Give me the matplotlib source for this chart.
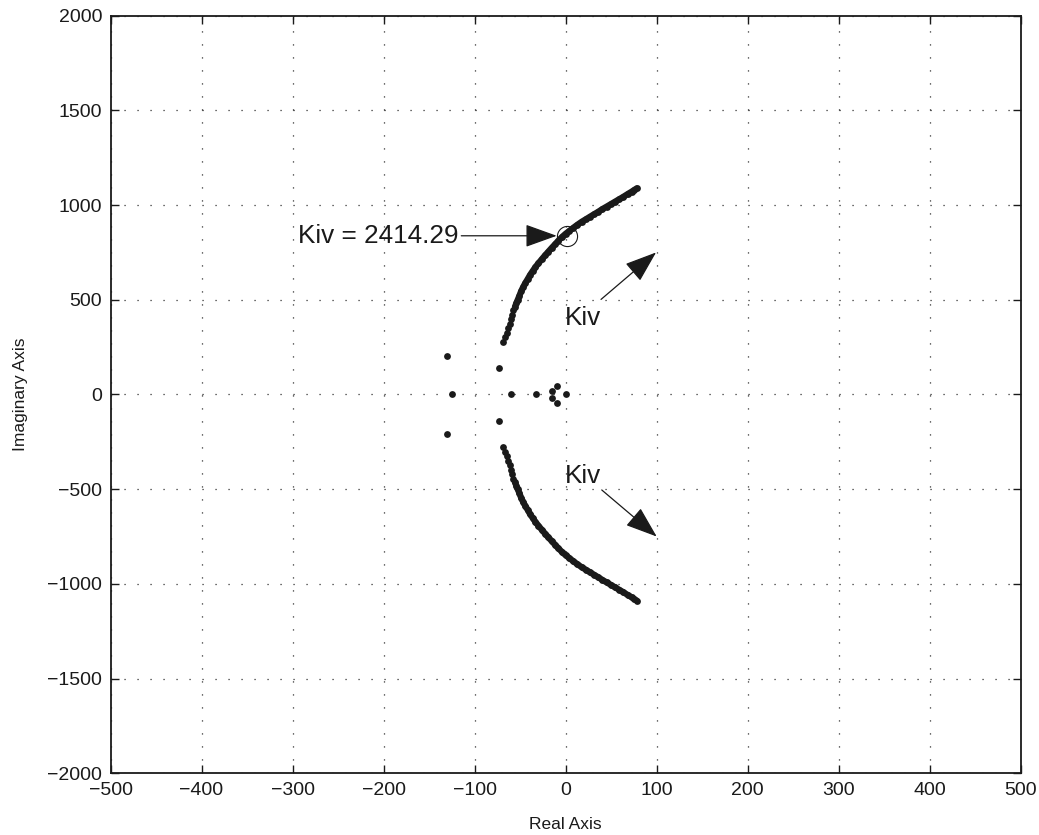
import numpy as np
import matplotlib.pyplot as plt

plt.rcParams['font.family'] = ['Liberation Sans', 'DejaVu Sans']

# closed-loop poles that do not move much with Kiv
fixed_re = [-130.5, -130.5, -124.4, -73.4, -73.4, -60.2, -32.1, -14.8, -14.8, -9.7, -9.7, 0.0]
fixed_im = [205.0, -208.0, 0.0, 138.0, -139.0, 0.0, 0.0, 20.0, -21.0, 46.0, -47.0, 0.0]

# dominant branch (upper half); the lower half is its conjugate
branch_re = [-68.4, -66.5, -64.6, -63.0, -61.5, -60.0, -58.5, -57.2, -55.6, -54.0,
             -52.5, -50.8, -48.8, -46.4, -44.0, -41.5, -39.0, -36.2, -33.2, -29.9,
             -26.3, -22.6, -18.9, -15.2, -11.5, -7.9, -4.0, 0.0, 4.0, 8.5,
             13.0, 17.8, 22.3, 27.0, 31.5, 36.0, 40.5, 45.2, 49.8, 54.4,
             59.0, 63.6, 68.2, 72.7, 75.5, 78.2]
branch_im = [279, 302, 326, 350, 374, 398, 422, 446, 463, 482,
             500, 520, 545, 569, 590, 610, 631, 651, 672, 692,
             713, 734, 754, 774, 793, 812, 831, 848, 863, 880,
             896, 912, 925, 939, 952, 965, 979, 992, 1005, 1018,
             1031, 1044, 1058, 1071, 1080, 1088]

kiv_value = 2414.29
kiv_pole = (1.3, 838)

x_ticks = np.arange(-500, 501, 100)
y_ticks = np.arange(-2000, 2001, 500)

fig = plt.figure(figsize=(10.39, 8.35), dpi=100)
ax = fig.add_axes([0.1064, 0.0739, 0.8758, 0.9073])

re = np.array(branch_re)
im = np.array(branch_im)
for sign in (1, -1):
    ax.plot(re[8:], sign * im[8:], '-', color='#1a1a1a', lw=4.5, solid_capstyle='round')
    ax.plot(re, sign * im, 'o', color='#1a1a1a', ms=4.9, mew=0)
ax.plot(fixed_re, fixed_im, 'o', color='#1a1a1a', ms=4.9, mew=0)

# marked gain on the branch
ax.plot(*kiv_pole, 'o', mfc='none', mec='#1a1a1a', ms=14.5, mew=0.8)

arrow = dict(arrowstyle='-|>,head_length=1.0,head_width=0.36', mutation_scale=20,
             color='#1a1a1a', lw=0.9, shrinkA=0)
ax.annotate(f'Kiv = {kiv_value:.2f}', xy=kiv_pole, xytext=(-294, kiv_pole[1]),
            ha='left', va='center', fontsize=18.8, color='#1a1a1a',
            arrowprops=dict(arrow, shrinkB=7.2, relpos=(1.0, 0.5)))

ax.text(-0.5, 367, 'Kiv', fontsize=18.8, color='#1a1a1a', ha='left', va='baseline')
ax.annotate('', xy=(99.5, 750), xytext=(39, 502), arrowprops=dict(arrow, shrinkB=0))
ax.text(-0.5, -469, 'Kiv', fontsize=18.8, color='#1a1a1a', ha='left', va='baseline')
ax.annotate('', xy=(100.2, -750), xytext=(39.8, -504), arrowprops=dict(arrow, shrinkB=0))

ax.set_xlim(-500, 500)
ax.set_ylim(-2000, 2000)
ax.set_xticks(x_ticks)
ax.set_yticks(y_ticks)
ax.set_xticklabels([f'{v}'.replace('-', '\u2212') for v in x_ticks])
ax.set_yticklabels([f'{v}'.replace('-', '\u2212') for v in y_ticks])
ax.tick_params(direction='in', length=6, width=1.0, top=True, right=True,
               labelsize=14, colors='#1a1a1a', pad=6)
ax.grid(True, color='#1a1a1a', lw=0.9, linestyle=(0, (0.9, 9.5)))
for s in ax.spines.values():
    s.set_linewidth(1.3)
    s.set_color('#1a1a1a')

ax.set_xlabel('Real Axis', fontsize=12.5, color='#1a1a1a', labelpad=13)
ax.set_ylabel('Imaginary Axis', fontsize=12.5, color='#1a1a1a', labelpad=14)

fig.savefig('out.png', dpi=100)
